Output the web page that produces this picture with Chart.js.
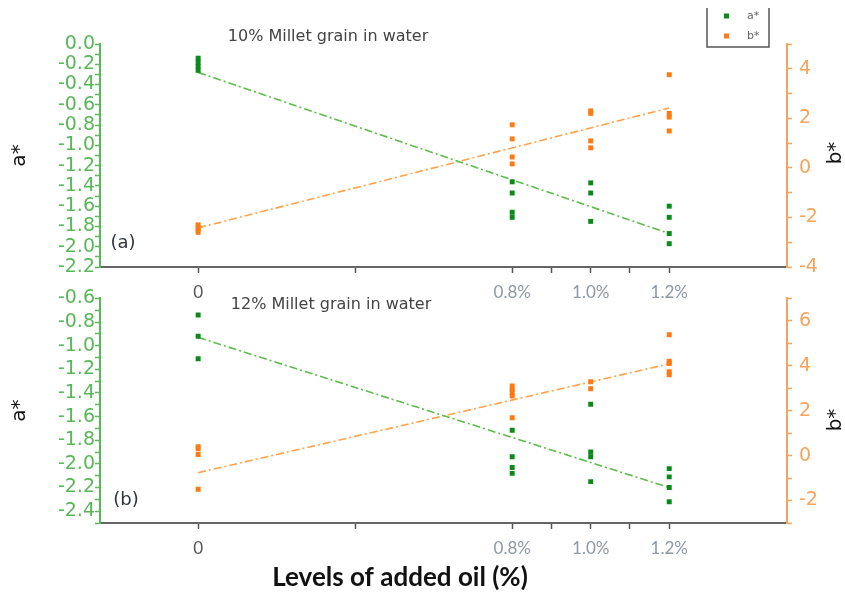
<!DOCTYPE html>
<html>
<head>
<meta charset="utf-8">
<script src="https://cdn.jsdelivr.net/npm/chart.js@4.4.1/dist/chart.umd.min.js"></script>
<style>
  html, body { margin: 0; padding: 0; background: #fff; }
  body { width: 845px; height: 603px; position: relative; overflow: hidden; }
  canvas { position: absolute; left: 0; }
  #topChart { top: 0; }
  #botChart { top: 280px; }
</style>
</head>
<body>
<canvas id="topChart" width="845" height="310"></canvas>
<canvas id="botChart" width="845" height="323"></canvas>
<script>
// ----------------- Data -----------------
const xTickValues = [0, 0.4, 0.8, 0.9, 1.0, 1.1, 1.2];
const xTickLabels = ["0", "", "0.8%", "", "1.0%", "", "1.2%"];
const legendLabels = ["a*", "b*"];

// (a) 10% millet grain in water
const topAX = [0, 0, 0, 0, 0.8, 0.8, 0.8, 0.8, 1.0, 1.0, 1.0, 1.2, 1.2, 1.2, 1.2];
const topA  = [-0.14, -0.18, -0.22, -0.26, -1.36, -1.47, -1.66, -1.71, -1.37, -1.47, -1.75, -1.60, -1.71, -1.87, -1.97];
const topBX = [0, 0, 0, 0, 0.8, 0.8, 0.8, 0.8, 1.0, 1.0, 1.0, 1.0, 1.2, 1.2, 1.2, 1.2];
const topB  = [-2.3, -2.4, -2.5, -2.6, 1.74, 1.17, 0.44, 0.16, 2.3, 2.2, 1.09, 0.81, 3.76, 2.2, 2.05, 1.49];
const topAFit = [-0.28, -1.87];
const topBFit = [-2.42, 2.42];

// (b) 12% millet grain in water
const botAX = [0, 0, 0, 0.8, 0.8, 0.8, 0.8, 1.0, 1.0, 1.0, 1.0, 1.2, 1.2, 1.2, 1.2];
const botA  = [-0.74, -0.92, -1.11, -1.715, -1.94, -2.03, -2.08, -1.495, -1.90, -1.94, -2.15, -2.04, -2.11, -2.20, -2.32];
const botBX = [0, 0, 0, 0, 0.8, 0.8, 0.8, 0.8, 0.8, 1.0, 1.0, 1.2, 1.2, 1.2, 1.2, 1.2];
const botB  = [0.4, 0.3, 0.05, -1.5, 3.1, 2.95, 2.8, 2.65, 1.69, 3.29, 2.98, 5.38, 4.2, 4.1, 3.73, 3.6];
const botAFit = [-0.93, -2.20];
const botBFit = [-0.76, 4.09];

const fitX = [0, 1.2];

// ----------------- Styles -----------------
Chart.defaults.font.family = "DejaVu Sans";
const greenAxis = "#58b858";
const orangeAxis = "#f7a35c";
const greenPt = "#0b8a1a";
const orangePt = "#ff7a12";
const greenLine = "#5cbd4a";
const orangeLine = "#ffa24a";
const dashDot = [8, 3, 2, 3];

const pts = (xs, ys) => ys.map((y, i) => ({ x: xs[i], y: y }));

function pointSet(label, xs, ys, color, axis) {
  return {
    label: label, data: pts(xs, ys), yAxisID: axis, inLegend: true,
    backgroundColor: color, borderColor: color, borderWidth: 0,
    pointStyle: "rect", pointRadius: 3.5, order: 0
  };
}

function fitSet(ys, color, axis) {
  return {
    label: "fit", data: pts(fitX, ys), yAxisID: axis, showLine: true,
    borderColor: color, borderWidth: 1.6, borderDash: dashDot,
    pointRadius: 0, fill: false, order: 1
  };
}

function xAxis(h) {
  return {
    type: "linear", min: -0.25, max: 1.5,
    afterBuildTicks: s => { s.ticks = xTickValues.map(v => ({ value: v })); },
    afterFit: s => { s.height = h; },
    border: { display: true, color: "#666", width: 2 },
    grid: { display: true, drawOnChartArea: false, tickLength: 6, tickColor: "#555", tickWidth: 1.5 },
    ticks: {
      autoSkip: false, maxRotation: 0, padding: 9,
      font: { family: "Lato", size: 17 },
      color: c => c.index === 0 ? "#555" : "#8d97a8",
      callback: (v, i) => xTickLabels[i]
    }
  };
}

function yAxis(pos, min, max, step, color, title, decimals) {
  return {
    type: "linear", position: pos, min: min, max: max,
    afterFit: s => { s.width = pos === "left" ? 100 : 58; },
    border: { display: true, color: color, width: 2 },
    grid: { display: true, drawOnChartArea: false, tickLength: 5, tickColor: color, tickWidth: 1.5 },
    ticks: {
      stepSize: step, autoSkip: false, maxTicksLimit: 100,
      padding: pos === "left" ? 0 : 7, color: color, font: { size: 19 },
      callback: v => (Math.round(v / step) % 2 === 0 ? v.toFixed(decimals) : "")
    },
    title: {
      // the right-hand title reads bottom-to-top, so it is drawn by panelText
      display: pos === "left", text: title, color: "#111",
      font: { size: 20, lineHeight: 1 },
      padding: { top: 10, bottom: 0 }
    }
  };
}

// ----------------- Plugins -----------------
const panelText = {
  id: "panelText",
  afterDraw(chart, args, opts) {
    const ctx = chart.ctx;
    ctx.save();
    ctx.textAlign = "center";
    ctx.textBaseline = "middle";
    opts.items.forEach(t => {
      ctx.save();
      ctx.translate(t.x, t.y);
      if (t.rot) ctx.rotate(t.rot);
      ctx.font = t.font;
      ctx.fillStyle = t.color;
      ctx.fillText(t.text, 0, 0);
      ctx.restore();
    });
    ctx.restore();
  }
};

const legendBox = {
  id: "legendBox",
  afterDraw(chart, args, o) {
    if (!o.show) return;
    const ctx = chart.ctx;
    const sets = chart.data.datasets.filter(d => d.inLegend);
    ctx.save();
    ctx.strokeStyle = "#555";
    ctx.lineWidth = 1.5;
    ctx.beginPath();
    ctx.moveTo(o.x, o.y);
    ctx.lineTo(o.x, o.y + o.h);
    ctx.lineTo(o.x + o.w, o.y + o.h);
    ctx.lineTo(o.x + o.w, o.y);
    ctx.stroke();
    ctx.font = "11px DejaVu Sans";
    ctx.textAlign = "left";
    ctx.textBaseline = "middle";
    sets.forEach((d, i) => {
      const y = o.y + 8 + i * 20;
      ctx.fillStyle = d.backgroundColor;
      ctx.fillRect(o.x + 17, y - 2.5, 5, 5);
      ctx.fillStyle = "#666";
      ctx.fillText(d.label, o.x + 40, y);
    });
    ctx.restore();
  }
};

// ----------------- Charts -----------------
function makeChart(id, cfg) {
  return new Chart(document.getElementById(id).getContext("2d"), {
    type: "scatter",
    data: {
      datasets: [
        pointSet(legendLabels[0], cfg.ax, cfg.a, greenPt, "yA"),
        pointSet(legendLabels[1], cfg.bx, cfg.b, orangePt, "yB"),
        fitSet(cfg.aFit, greenLine, "yA"),
        fitSet(cfg.bFit, orangeLine, "yB")
      ]
    },
    options: {
      responsive: false,
      animation: false,
      layout: { padding: { top: cfg.padTop, left: 0, right: 0, bottom: 0 } },
      plugins: {
        legend: { display: false },
        tooltip: { enabled: false },
        panelText: { items: cfg.texts },
        legendBox: cfg.legend
      },
      scales: {
        x: xAxis(cfg.xHeight),
        yA: yAxis("left", cfg.aMin, cfg.aMax, 0.1, greenAxis, "a*", 1),
        yB: yAxis("right", cfg.bMin, cfg.bMax, 1, orangeAxis, "b*", 0)
      }
    },
    plugins: [panelText, legendBox]
  });
}

makeChart("topChart", {
  ax: topAX, a: topA, bx: topBX, b: topB, aFit: topAFit, bFit: topBFit,
  aMin: -2.2, aMax: 0, bMin: -4, bMax: 5,
  padTop: 44, xHeight: 43,
  legend: { show: true, x: 707, y: 8, w: 62, h: 39 },
  texts: [
    { text: "10% Millet grain in water", x: 328, y: 37, font: "16px DejaVu Sans", color: "#444" },
    { text: "(a)", x: 123, y: 243, font: "18px DejaVu Sans", color: "#2e3440" },
    { text: legendLabels[1], x: 836, y: 153, rot: -Math.PI / 2, font: "20px DejaVu Sans", color: "#111" }
  ]
});

makeChart("botChart", {
  ax: botAX, a: botA, bx: botBX, b: botB, aFit: botAFit, bFit: botBFit,
  aMin: -2.5, aMax: -0.6, bMin: -3, bMax: 7,
  padTop: 18, xHeight: 80,
  legend: { show: false },
  texts: [
    { text: "12% Millet grain in water", x: 331, y: 25, font: "16px DejaVu Sans", color: "#444" },
    { text: "(b)", x: 126, y: 220, font: "18px DejaVu Sans", color: "#2e3440" },
    { text: legendLabels[1], x: 836, y: 140, rot: -Math.PI / 2, font: "20px DejaVu Sans", color: "#111" },
    { text: "Levels of added oil (%)", x: 400, y: 298, font: "bold 26px Lato", color: "#111" }
  ]
});
</script>
</body>
</html>
